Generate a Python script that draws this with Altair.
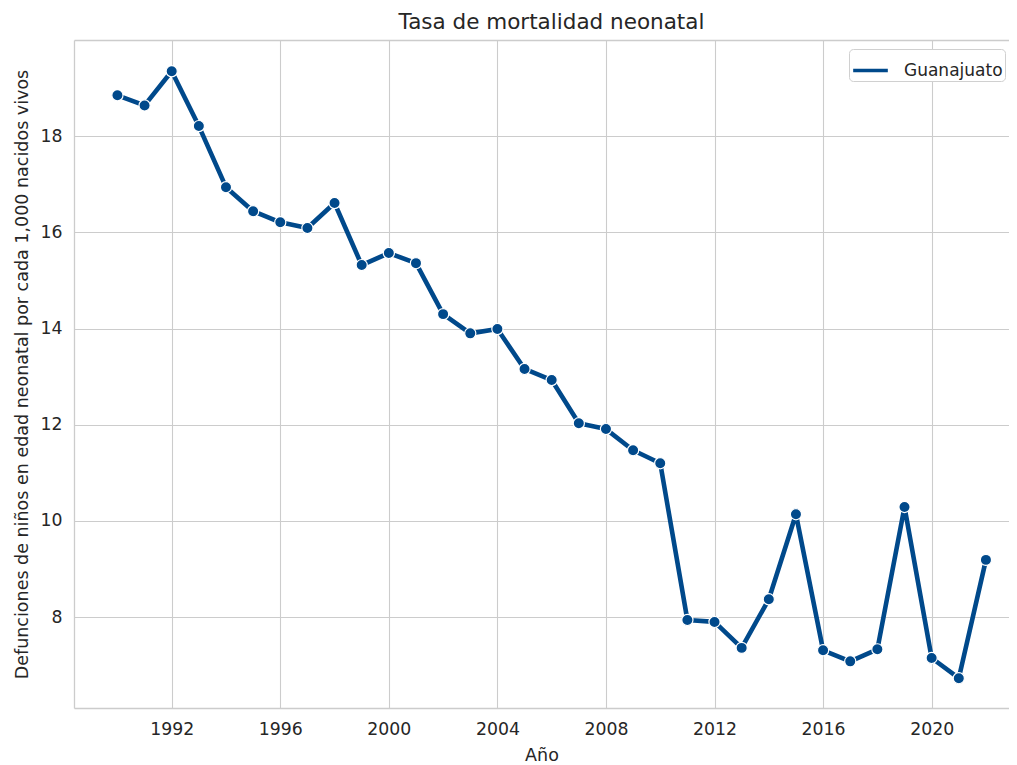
import altair as alt
import pandas as pd

years = list(range(1990, 2023))
values = [18.85, 18.64, 19.35, 18.21, 16.94, 16.44, 16.21, 16.09, 16.61, 15.32,
          15.57, 15.36, 14.30, 13.90, 13.99, 13.16, 12.93, 12.03, 11.91, 11.47,
          11.20, 7.94, 7.90, 7.36, 8.37, 10.14, 7.31, 7.08, 7.33, 10.29,
          7.15, 6.73, 9.19]
series = ["Guanajuato"] * len(years)
x_ticks = [1992, 1996, 2000, 2004, 2008, 2012, 2016, 2020]
y_ticks = [8, 10, 12, 14, 16, 18]

df = pd.DataFrame({"Año": years, "valor": values, "serie": series})

COLOR = "#00498b"
FONT = "DejaVu Sans"
TXT = "#262626"
GRID = "#cccccc"

xscale = alt.Scale(domain=[1988.4, 2022.85], nice=False, zero=False)
yscale = alt.Scale(domain=[6.11, 20.0], nice=False, zero=False)

xenc = alt.X("Año:Q", scale=xscale,
             axis=alt.Axis(values=x_ticks, format="d", title="Año", orient="bottom"))
yenc = alt.Y("valor:Q", scale=yscale,
             axis=alt.Axis(values=y_ticks, format="d",
                           title="Defunciones de niños en edad neonatal por cada 1,000 nacidos vivos"))

line = alt.Chart(df).mark_line(strokeWidth=4.6, clip=True, strokeJoin="round",
                               strokeCap="round").encode(
    x=xenc, y=yenc,
    color=alt.Color("serie:N", scale=alt.Scale(range=[COLOR]),
                    legend=alt.Legend(title=None, orient="none", legendX=775, legendY=9,
                                      symbolType="stroke", symbolStrokeWidth=3.5,
                                      symbolSize=1200, labelFontSize=17,
                                      labelColor=TXT, labelFont=FONT,
                                      fillColor="white", strokeColor="#d0d0d0",
                                      cornerRadius=4, padding=2, labelOffset=14)),
)
xtop = alt.X("Año:Q", scale=xscale,
             axis=alt.Axis(orient="top", labels=False, ticks=False, grid=False,
                           domain=True, title=None))
points = alt.Chart(df).mark_point(filled=True, size=125, stroke="white", strokeWidth=1.2,
                                  opacity=1, color=COLOR).encode(x=xtop, y=yenc)

chart = alt.layer(line, points).resolve_axis(x="independent").properties(
    width=935, height=668,
    title=alt.TitleParams("Tasa de mortalidad neonatal", fontSize=21.5, font=FONT,
                          color=TXT, fontWeight="normal", dx=10, offset=7),
    autosize=alt.AutoSizeParams(type="none"),
    padding={"left": 66, "top": 32, "right": 0, "bottom": 57},
).configure_view(stroke=None).configure_axis(
    grid=True, gridColor=GRID, gridWidth=1.1, domain=True, domainColor=GRID,
    domainWidth=1.3, ticks=False,
    labelFont=FONT, labelFontSize=17.3, labelColor=TXT,
    titleFont=FONT, titleFontSize=17.5, titleColor=TXT, titleFontWeight="normal",
).configure_axisX(labelPadding=12, titlePadding=9).configure_axisY(labelPadding=12, titlePadding=9)

chart.save("out.html", embed_options={"renderer": "svg", "actions": False})
